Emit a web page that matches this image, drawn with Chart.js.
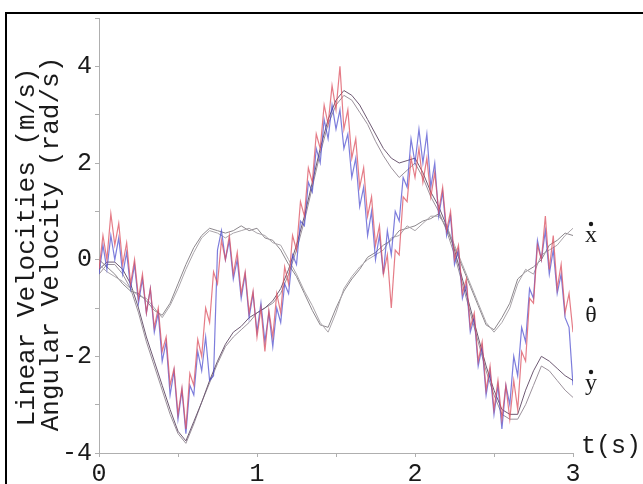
<!DOCTYPE html>
<html>
<head>
<meta charset="utf-8">
<script src="https://cdn.jsdelivr.net/npm/chart.js@4.4.1/dist/chart.umd.min.js"></script>
<style>
  html, body { margin: 0; padding: 0; background: #fff; overflow: hidden; width: 643px; height: 484px; }
  #frame { position: absolute; left: 5px; top: 12px; width: 700px; height: 600px; border-top: 2px solid #000; border-left: 2px solid #000; }
  #c { position: absolute; left: 0; top: 0; }
</style>
</head>
<body>
<div id="frame"></div>
<canvas id="c" width="643" height="484"></canvas>
<script>
// ---- tick labels ----
const xTickLabels = ["0", "1", "2", "3"];
const yTickLabels = ["-4", "-2", "0", "2", "4"];
const curveLabels = ["x", "\u03B8", "y"];   // each drawn with a dot above (time derivative)
const yTitle = ["Linear Velocities (m/s)", "Angular Velocity (rad/s)"];
const xTitle = "t(s)";

// ---- time grids ----
const tGray = [];   // 0 .. 3 step 0.05
for (let i = 0; i <= 60; i++) tGray.push(+(i * 0.05).toFixed(3));
const tNoisy = [];  // 0 .. 3 step 0.025
for (let i = 0; i <= 120; i++) tNoisy.push(+(i * 0.025).toFixed(3));

// ---- reference (gray) curves, sampled at tGray ----
const xdotA = [-0.1,-0.25,-0.35,-0.45,-0.6,-0.75,-0.8,-1.0,-1.2,-0.95,-0.6,-0.2,0.15,0.45,0.6,0.55,0.45,0.55,0.6,0.65,
  0.55,0.5,0.35,0.3,0.0,-0.3,-0.65,-0.95,-1.3,-1.5,-1.1,-0.6,-0.35,-0.15,0.0,0.1,0.2,0.45,0.5,0.7,
  0.6,0.75,0.9,0.9,0.7,0.3,-0.1,-0.5,-0.9,-1.3,-1.5,-1.3,-1.0,-0.5,-0.2,-0.3,0.1,0.2,0.3,0.5,0.65];
const xdotB = [0.0,-0.15,-0.3,-0.5,-0.65,-0.7,-0.85,-1.05,-1.15,-0.9,-0.5,-0.1,0.25,0.5,0.65,0.6,0.55,0.6,0.7,0.6,
  0.65,0.45,0.4,0.2,-0.1,-0.35,-0.7,-1.05,-1.35,-1.4,-1.0,-0.65,-0.4,-0.2,0.05,0.15,0.3,0.4,0.6,0.65,
  0.7,0.8,0.85,0.95,0.65,0.25,-0.15,-0.55,-0.95,-1.35,-1.45,-1.2,-0.9,-0.4,-0.25,-0.15,0.0,0.3,0.4,0.55,0.5];
const ydotA = [-0.2,-0.05,-0.05,-0.2,-0.5,-1.0,-1.6,-2.1,-2.6,-3.1,-3.55,-3.75,-3.35,-2.95,-2.5,-2.1,-1.75,-1.5,-1.38,-1.2,
  -1.1,-1.0,-0.85,-0.6,-0.2,0.3,0.9,1.6,2.3,2.9,3.3,3.5,3.4,3.2,2.9,2.6,2.3,2.1,2.0,2.05,
  2.1,1.8,1.4,1.1,0.7,0.2,-0.4,-1.0,-1.6,-2.2,-2.7,-3.1,-3.2,-3.2,-2.7,-2.3,-2.0,-2.1,-2.25,-2.4,-2.5];
const ydotB = [-0.3,-0.1,-0.1,-0.3,-0.6,-1.1,-1.7,-2.2,-2.7,-3.2,-3.6,-3.8,-3.4,-2.95,-2.55,-2.15,-1.8,-1.6,-1.45,-1.3,
  -1.1,-1.0,-0.9,-0.7,-0.3,0.2,0.8,1.5,2.2,2.8,3.2,3.4,3.3,3.05,2.8,2.45,2.15,1.9,1.7,1.85,
  2.0,1.7,1.3,1.0,0.6,0.1,-0.5,-1.1,-1.7,-2.3,-2.8,-3.2,-3.3,-3.3,-3.0,-2.6,-2.2,-2.3,-2.5,-2.7,-2.85];

// ---- noisy (measured) curves, sampled at tNoisy ----
const thetaRed = [-0.2,0.5,0.0,0.95,0.3,0.75,-0.1,0.35,-0.5,0.0,-0.8,-0.3,-1.1,-0.6,-1.4,-1.0,-1.9,-1.6,-2.6,-2.25,
  -3.2,-2.65,-3.5,-2.35,-2.6,-1.65,-2.0,-1.0,-1.3,-0.25,-0.5,0.4,0.0,0.5,-0.3,0.15,-0.7,-0.25,-1.1,-0.65,
  -1.6,-1.0,-1.9,-1.05,-1.6,-0.7,-1.1,-0.15,-0.5,0.5,0.2,1.2,0.9,1.9,1.6,2.6,2.3,3.2,2.8,3.6,
  3.1,4.0,2.7,3.1,2.1,2.5,1.5,1.9,0.9,1.3,0.3,0.7,-0.3,0.1,-1.0,0.2,0.1,1.3,1.2,2.1,
  1.7,2.3,1.6,2.1,1.3,1.8,1.0,1.5,0.6,1.0,0.0,0.3,-0.7,-0.4,-1.4,-1.1,-2.1,-1.7,-2.7,-2.2,
  -3.1,-2.5,-3.3,-2.6,-3.3,-2.5,-3.1,-1.9,-2.1,-0.8,-0.9,0.3,0.0,0.9,-0.2,0.5,-0.6,-0.1,-1.1,-0.7,-1.5];
const thetaBlue = [-0.3,0.3,-0.2,0.5,0.0,0.45,-0.3,0.15,-0.6,-0.1,-0.9,-0.4,-1.1,-0.6,-1.5,-1.1,-2.1,-1.7,-2.8,-2.3,
  -3.3,-2.7,-3.6,-2.6,-2.8,-1.9,-2.3,-1.6,-2.5,-2.4,0.2,0.6,0.0,0.4,-0.4,0.0,-0.8,-0.3,-1.2,-0.7,
  -1.5,-0.9,-1.7,-1.1,-1.8,-1.0,-1.3,-0.5,-0.7,0.1,-0.1,0.8,0.7,1.6,1.4,2.3,2.0,2.9,2.5,3.2,
  2.7,3.1,2.3,2.6,1.7,2.1,1.1,1.5,0.5,1.0,0.0,0.5,-0.3,0.6,0.1,1.0,0.8,1.7,1.5,2.5,
  2.0,2.7,2.0,2.6,1.5,2.0,0.9,1.4,0.5,0.9,-0.1,0.2,-0.8,-0.5,-1.5,-1.2,-2.2,-1.8,-2.8,-2.3,
  -3.2,-2.6,-3.5,-2.6,-3.0,-2.0,-2.4,-1.4,-1.7,-0.6,-0.8,0.4,0.0,0.6,-0.3,0.2,-0.7,-0.3,-1.2,-1.4,-2.6];

const pts = (ts, vs) => ts.map((t, i) => ({ x: t, y: vs[i] }));
const FONT = '"Liberation Mono", "Courier New", monospace';

const textPlugin = {
  id: 'texts',
  afterDraw(chart) {
    const ctx = chart.ctx;
    ctx.save();
    ctx.fillStyle = '#1a1a1a';
    ctx.font = '26px ' + FONT;
    ctx.textAlign = 'center';
    ctx.textBaseline = 'middle';
    const titleX = [27, 51];
    const titleY = [247, 244];
    yTitle.forEach((s, i) => {
      ctx.save();
      ctx.translate(titleX[i], titleY[i]);
      ctx.rotate(-Math.PI / 2);
      ctx.fillText(s, 0, 0);
      ctx.restore();
    });
    const xs = chart.scales.x, ys = chart.scales.y;
    ctx.font = '25px ' + FONT;
    ctx.textAlign = 'left';
    ctx.textBaseline = 'alphabetic';
    ctx.fillText(xTitle, xs.right + 8, ys.bottom);
    // curve labels: letter plus a derivative dot above it
    ctx.font = '24px "Liberation Serif", serif';
    ctx.textAlign = 'center';
    ctx.textBaseline = 'middle';
    const labelY = [236, 316, 384];
    const labelX = xs.right + 18;
    curveLabels.forEach((s, i) => {
      ctx.fillText(s, labelX, labelY[i]);
      const top = labelY[i] - (i === 1 ? 16 : 12);
      ctx.beginPath();
      ctx.arc(labelX, top, 2.2, 0, Math.PI * 2);
      ctx.fill();
    });
    ctx.restore();
  }
};

new Chart(document.getElementById('c'), {
  type: 'line',
  data: {
    datasets: [
      { data: pts(tNoisy, thetaRed), borderColor: 'rgba(220,80,95,0.75)', borderWidth: 1.2 },
      { data: pts(tNoisy, thetaBlue), borderColor: 'rgba(70,70,205,0.7)', borderWidth: 1.2 },
      { data: pts(tGray, xdotA), borderColor: 'rgb(170,165,170)' },
      { data: pts(tGray, xdotB), borderColor: 'rgb(140,135,140)' },
      { data: pts(tGray, ydotA), borderColor: 'rgb(110,90,115)' },
      { data: pts(tGray, ydotB), borderColor: 'rgb(155,145,155)' }
    ]
  },
  options: {
    responsive: false,
    animation: false,
    devicePixelRatio: 1,
    layout: { padding: { left: 0, right: 70, top: 15, bottom: 0 } },
    elements: { point: { radius: 0 }, line: { borderWidth: 1, tension: 0 } },
    plugins: { legend: { display: false }, tooltip: { enabled: false } },
    scales: {
      x: {
        type: 'linear', min: 0, max: 3,
        border: { color: 'rgb(175,175,175)', width: 1 },
        grid: { drawOnChartArea: false, color: 'rgb(175,175,175)', tickLength: 4 },
        ticks: {
          stepSize: 0.5, color: '#1a1a1a', padding: 2, maxRotation: 0, autoSkip: false,
          font: { family: FONT, size: 25 },
          callback: v => (Number.isInteger(v) ? xTickLabels[v] : '')
        },
        afterFit: s => { s.height = 31; }
      },
      y: {
        type: 'linear', min: -4, max: 5,
        border: { color: 'rgb(175,175,175)', width: 1 },
        grid: { drawOnChartArea: false, color: 'rgb(175,175,175)', tickLength: 4 },
        ticks: {
          stepSize: 1, color: '#1a1a1a', padding: 3, autoSkip: false,
          font: { family: FONT, size: 25 },
          callback: v => (v % 2 === 0 && v <= 4 ? yTickLabels[(v + 4) / 2] : '')
        },
        afterFit: s => { s.width = 99; }
      }
    }
  },
  plugins: [textPlugin]
});
</script>
</body>
</html>
